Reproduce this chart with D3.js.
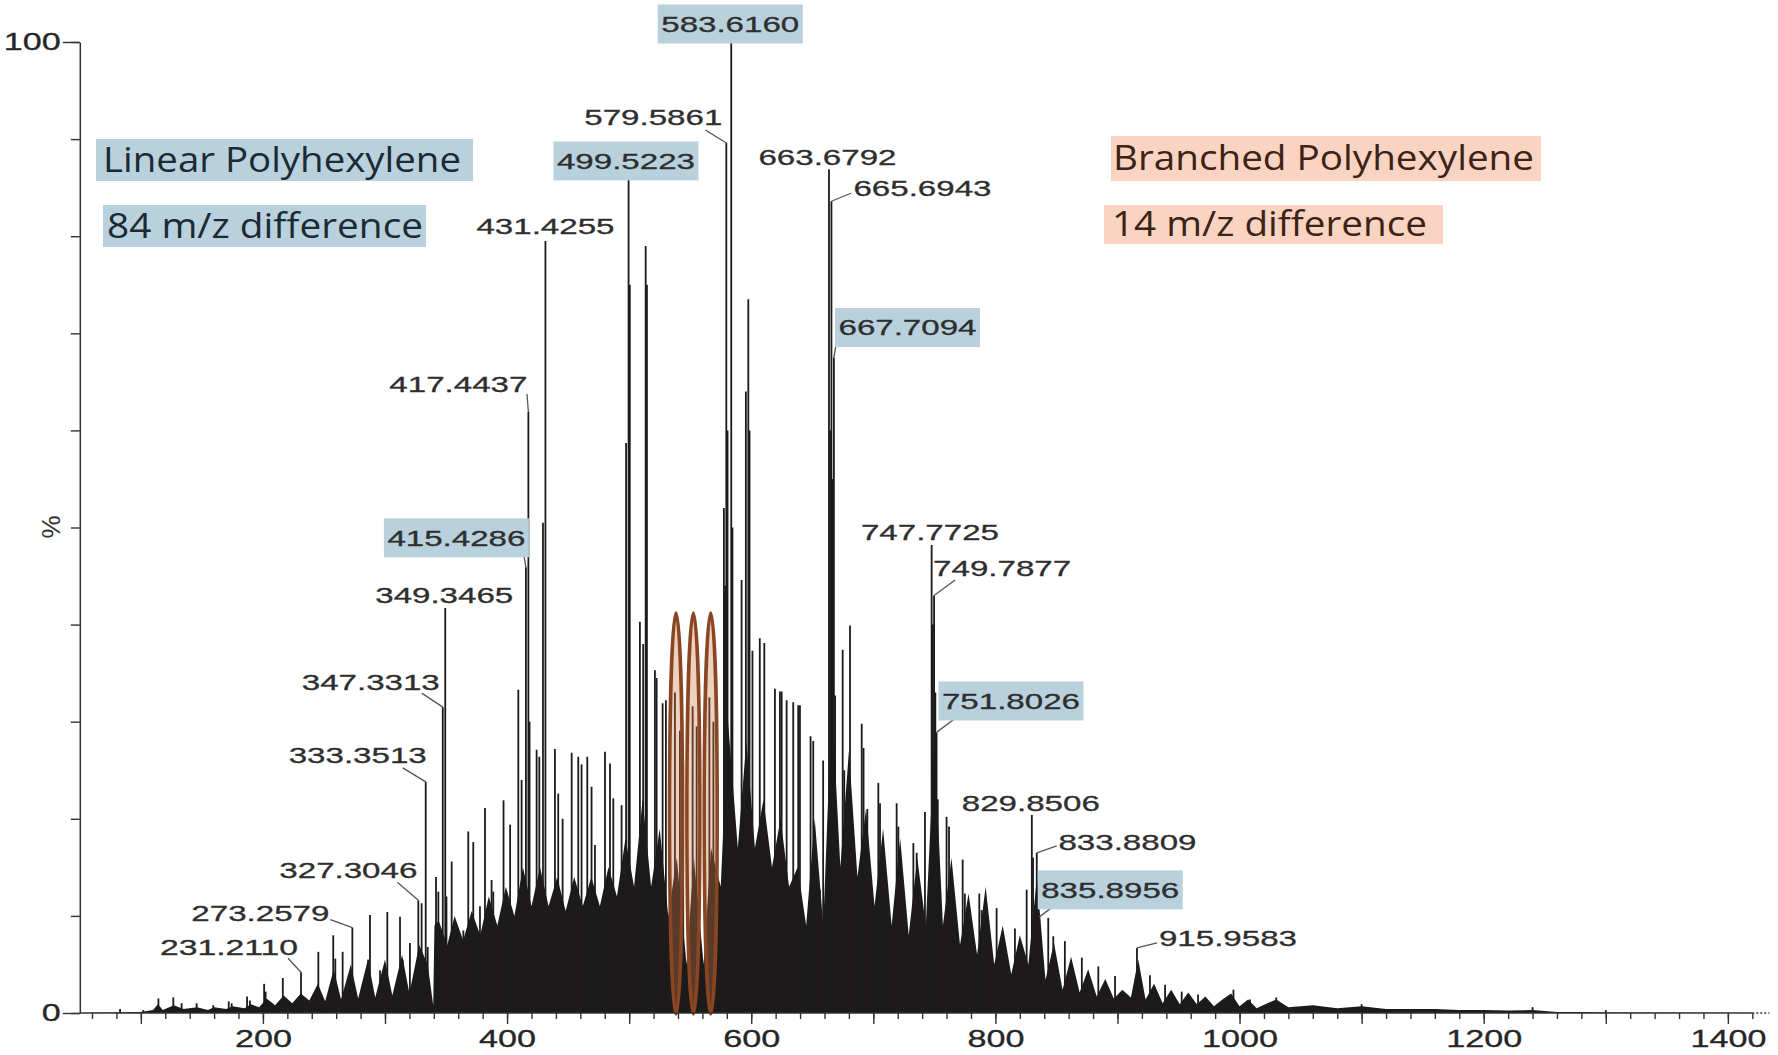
<!DOCTYPE html>
<html>
<head>
<meta charset="utf-8">
<script src="https://cdn.jsdelivr.net/npm/d3@7"></script>
<style>
  body { margin: 0; background: #fff; }
  svg { display: block; }
</style>
</head>
<body>
<svg id="spectrum" width="1778" height="1055"></svg>
<script>
// ---- data (m/z, relative intensity %) ----

// resolved peaks (sticks)
const peakMz = [
  83, 102, 114.4, 126.6, 133.4, 145.7, 159.3, 172, 174.4, 187, 189.4, 201, 202.2, 216.3,
  231.2110, 245.4, 257.6, 259.3, 265.3, 271.3, 273.2579, 286.3, 287.7, 295.9, 301.9,
  312.3, 314.5, 320.4, 327.3046, 330, 333.3513, 335, 341.8, 343.7, 347.3313, 349.3465,
  350.35, 354.6, 358.1, 364.2, 368.2, 372.3, 377.8, 381.9, 387.3, 388.7, 397.1, 402.5,
  409.2, 411.9, 415.4286, 417.4437, 418.4, 424.2, 426.4, 429.4, 431.4255, 439.2, 441.9,
  445.5, 452.9, 458.3, 461, 465.7, 469.2, 472, 480.2, 484.3, 487, 493.8, 497.5,
  499.5223, 500.52, 508.8, 511.5, 513.54, 514.54, 521.1, 522.5, 527.4, 530.1, 537.5,
  541.6, 544.3, 552, 555.3, 565.7, 569, 577.6, 578.6, 579.5861, 580.6, 583.6160, 584.6,
  592.1, 595.6, 597.6, 598.6, 601, 607, 610.7, 619.4, 623.5, 624.9, 629, 634.4, 638.5,
  639.9, 648.6, 650.8, 656.3, 658.9, 663.6792, 664.7, 665.6943, 666.7, 667.7094, 668.7,
  674.9, 676.2, 680.9, 690.5, 692, 695.1, 704.1, 705.5, 711, 719.1, 720.5, 732.8, 735.5,
  742.3, 747.7725, 748.8, 749.7877, 750.8, 751.8026, 752.8, 760, 762, 773.2, 775, 786.8,
  788.7, 801, 816, 825.6, 829.8506, 830.85, 833.8809, 834.9, 835.8956, 843.3, 847.4,
  856.9, 870.8, 884.3, 898, 915.9583, 916.96, 926.6, 939, 952.6, 966, 995, 1008.5, 1030,
  1100, 1240, 1300
];
const peakPct = [
  0.4, 0.3, 1.5, 1.6, 1.0, 1.0, 0.8, 1.2, 1.0, 1.7, 1.3, 3.0, 2.2, 3.6,
  4.2, 6.3, 8.0, 5.6, 6.3, 3.8, 8.8, 5.5, 10.1, 4.4, 10.4,
  9.9, 5.5, 7.2, 11.6, 11.3, 23.8, 6.8, 14.0, 12.5, 31.5, 41.7,
  12.0, 15.6, 8.5, 8.5, 18.7, 17.6, 11.0, 21.1, 13.7, 12.5, 21.9, 19.4,
  33.3, 24.0, 45.9, 61.9, 30.0, 27.1, 26.4, 50.5, 79.5, 27.2, 22.6,
  20.0, 26.8, 26.4, 25.6, 26.4, 23.3, 17.3, 26.9, 25.7, 22.1, 21.4, 58.7,
  86.0, 75.0, 40.3, 38.0, 79.0, 75.0, 35.3, 34.5, 31.9, 32.2, 33.0,
  29.1, 26.0, 31.6, 29.5, 32.5, 30.0, 52.0, 44.0, 89.6, 60.0, 100, 50.0,
  44.6, 64.0, 73.5, 60.0, 37.3, 38.6, 38.1, 33.4, 33.1, 33.1, 32.2, 32.0, 31.7,
  31.7, 28.5, 28.0, 12.7, 26.0, 86.9, 60.0, 83.6, 55.0, 67.5, 32.7,
  37.4, 25.0, 39.9, 29.8, 27.3, 21.0, 23.7, 21.6, 12.3, 21.6, 19.2, 17.5, 16.5,
  20.7, 48.2, 40.0, 43.0, 33.0, 28.9, 22.0, 20.2, 19.2, 15.8, 12.3, 12.3,
  10.6, 10.8, 8.7, 12.7, 20.4, 16.0, 16.5, 12.0, 9.9, 9.8, 7.9,
  7.4, 5.7, 4.8, 3.8, 6.7, 5.0, 3.9, 2.9, 2.2, 1.9, 2.4, 1.4, 1.6,
  0.9, 0.6, 0.3
];

// unresolved mass of overlapping ions (outline of the solid black region)
const envMz = [
  50, 100, 110, 114, 118, 127, 135, 146, 155, 160, 170, 175, 185, 190, 197, 203, 210,
  217, 224, 231, 238, 245, 251, 258, 264, 272, 278, 286, 292, 300, 306, 314, 320, 328,
  335, 339.5, 340.5, 344, 351, 357, 364, 371, 378, 385, 392, 399, 406, 413, 420, 427,
  434, 441, 448, 455, 462, 469, 476, 483, 490, 497, 504, 511, 518, 525, 532, 539, 547,
  553, 561, 567, 575, 581, 589, 596, 603, 610, 617, 624, 631, 638, 645, 652, 659, 666,
  673, 680, 687, 694, 701, 708, 715, 722, 729, 736, 743, 750, 757, 764, 771, 778, 785,
  792, 799, 806, 813, 820, 827, 834, 841, 848, 855, 862, 869, 876, 883, 890, 897, 904,
  911, 917, 923, 930, 937, 944, 951, 958, 965, 972, 979, 986, 993, 1000, 1007, 1014,
  1021, 1030, 1040, 1060, 1080, 1100, 1120, 1140, 1160, 1180, 1200, 1220, 1240, 1260,
  1280, 1300, 1430
];
const envPct = [
  0, 0.1, 0.3, 0.9, 0.3, 0.8, 0.4, 0.6, 0.3, 0.6, 0.4, 0.7, 0.5, 0.9, 0.6, 1.5, 0.8,
  1.8, 1.0, 2.0, 1.3, 3.0, 1.2, 4.5, 1.4, 5.0, 1.5, 5.5, 1.6, 5.5, 1.8, 6.0, 2.0, 7.0,
  5.0, 0.8, 9.0, 9.5, 7, 10, 7.5, 10.5, 8, 12, 9, 13, 10, 15, 11, 15,
  11, 14, 10.5, 14, 11, 14, 11, 15, 12, 18, 13, 22, 13, 19, 10, 16, 5,
  16, 5, 17, 13, 30, 17, 28, 17, 22, 15, 20, 13, 15, 9, 20, 9, 32,
  15, 27, 14, 21, 11, 19, 9, 18, 8, 16, 9, 28, 9, 16, 7, 12.3, 6,
  13, 5, 9, 4, 8, 5, 14, 3.4, 7.2, 2.4, 5.8, 2.1, 4.5, 1.7, 3.5, 1.5, 2.4,
  1.6, 5.5, 1.4, 3, 1.0, 2.4, 0.9, 2.1, 0.9, 1.7, 0.7, 1.4, 2.0, 0.7, 1.4, 0.5,
  0.9, 1.4, 0.6, 0.8, 0.5, 0.7, 0.4, 0.4, 0.4, 0.3, 0.3, 0.25, 0.3, 0.1,
  0.1, 0.05, 0
];

// annotated peaks; blue = linear series
const labelMz = [
  583.6160, 579.5861, 499.5223, 431.4255, 663.6792, 665.6943, 667.7094, 417.4437,
  415.4286, 349.3465, 347.3313, 333.3513, 327.3046, 273.2579, 231.2110, 747.7725,
  749.7877, 751.8026, 829.8506, 833.8809, 835.8956, 915.9583
];
const linearMz = [583.6160, 499.5223, 667.7094, 415.4286, 751.8026, 835.8956];

// the three 14 m/z spaced clusters circled in the figure
const ringMz = [538.4, 552.6, 566.8];
const ringTopPct = 41.3;

const xMajor = d3.range(100, 1401, 100);
const xMinor = d3.range(60, 1421, 20);
const xLabelled = [200, 400, 600, 800, 1000, 1200, 1400];
const yMinor = d3.range(0, 101, 10);
const yLabelled = [0, 100];

// ---- label placement (text centre / leader start, relative to peak tip) ----
const labelPlace = [
  { dx: -1, dy: -18 },
  { dx: -73, dy: -26, lead: [-21, -13] },
  { dx: -2.6, dy: -17 },
  { dx: 0, dy: -15 },
  { dx: -1.5, dy: -12 },
  { dx: 91, dy: -13, lead: [19.5, -8] },
  { dx: 73.6, dy: -30, lead: [2, -12] },
  { dx: -70, dy: -28, lead: [-1.4, -18] },
  { dx: -69.5, dy: -29.5, lead: [-2, -12] },
  { dx: -1, dy: -13 },
  { dx: -72, dy: -25, lead: [-21, -14] },
  { dx: -68, dy: -27, lead: [-23, -14] },
  { dx: -70, dy: -30, lead: [-21, -18] },
  { dx: -92, dy: -14, lead: [-22, -8] },
  { dx: -72, dy: -25, lead: [-13, -14] },
  { dx: -1.7, dy: -13 },
  { dx: 68, dy: -27, lead: [21, -15.5] },
  { dx: 74.4, dy: -31.4, lead: [20.4, -15.4] },
  { dx: -1, dy: -12 },
  { dx: 90.7, dy: -11, lead: [20, -7] },
  { dx: 71, dy: -27, lead: [19, -14] },
  { dx: 91, dy: -10, lead: [20, -5] }
];

const svg = d3.select('#spectrum');

const x = d3.scaleLinear().domain([50, 1430]).range([79.8, 1764.5]);
const y = d3.scaleLinear().domain([0, 100]).range([1013, 42]);

const ink = '#1c1a1a';
const numFont = '"Liberation Sans", Arial, sans-serif';

// solid mass
const area = d3.area()
  .x((d, i) => x(envMz[i]))
  .y0(y(0))
  .y1((d, i) => y(envPct[i]));

svg.append('path')
  .datum(envMz)
  .attr('d', area)
  .attr('fill', ink);

// sticks
svg.append('g')
  .selectAll('line')
  .data(peakMz)
  .join('line')
  .attr('x1', (d) => x(d))
  .attr('x2', (d) => x(d))
  .attr('y1', y(0))
  .attr('y2', (d, i) => y(peakPct[i]))
  .attr('stroke', ink)
  .attr('stroke-width', 1.8);

// circled clusters
const ringRy = (y(0) - y(ringTopPct)) / 2;
svg.append('g')
  .selectAll('ellipse')
  .data(ringMz)
  .join('ellipse')
  .attr('cx', (d) => x(d))
  .attr('cy', y(0) - ringRy + 1)
  .attr('rx', 6.5)
  .attr('ry', ringRy)
  .attr('fill', 'rgba(205,120,70,0.35)')
  .attr('stroke', '#8a4522')
  .attr('stroke-width', 3.5);

// peak labels
const labels = svg.append('g');
labelMz.forEach((m, i) => {
  const p = labelPlace[i];
  const pct = peakPct[peakMz.indexOf(m)];
  const px = x(m);
  const py = y(pct);
  const cx = px + p.dx;
  const cy = py + p.dy;

  if (p.lead) {
    labels.append('line')
      .attr('x1', px + p.lead[0]).attr('y1', py + p.lead[1])
      .attr('x2', px).attr('y2', py)
      .attr('stroke', '#555')
      .attr('stroke-width', 1.3);
  }
  if (linearMz.includes(m)) {
    labels.append('rect')
      .attr('x', cx - 72.5).attr('y', cy - 19.5)
      .attr('width', 145).attr('height', 39)
      .attr('fill', '#b8d1dd');
  }
  labels.append('text')
    .attr('x', cx - 69).attr('y', cy)
    .attr('dy', '0.36em')
    .attr('textLength', 138)
    .attr('lengthAdjust', 'spacingAndGlyphs')
    .attr('font-family', numFont)
    .attr('font-size', 22)
    .attr('fill', '#2e2e2e')
    .attr('stroke', '#2e2e2e')
    .attr('stroke-width', 0.3)
    .text(d3.format('.4f')(m));
});

// series annotations
const notes = [
  { text: 'Linear Polyhexylene', box: [96, 139, 377, 42], tx: 103, tw: 358, cy: 160, bg: '#b8d1dd', fg: '#1b2a33' },
  { text: '84 m/z difference', box: [103, 205, 323, 42], tx: 107, tw: 316, cy: 226, bg: '#b8d1dd', fg: '#1b2a33' },
  { text: 'Branched Polyhexylene', box: [1111, 136, 430, 45], tx: 1113, tw: 421, cy: 158, bg: '#f9d4c2', fg: '#3d2216' },
  { text: '14 m/z difference', box: [1104, 205, 339, 39], tx: 1112, tw: 315, cy: 224, bg: '#f9d4c2', fg: '#3d2216' }
];
notes.forEach((n) => {
  svg.append('rect')
    .attr('x', n.box[0]).attr('y', n.box[1])
    .attr('width', n.box[2]).attr('height', n.box[3])
    .attr('fill', n.bg);
  svg.append('text')
    .attr('x', n.tx).attr('y', n.cy)
    .attr('dy', '0.36em')
    .attr('textLength', n.tw)
    .attr('lengthAdjust', 'spacingAndGlyphs')
    .attr('font-family', '"Open Sans", "Noto Sans", sans-serif')
    .attr('font-size', 34)
    .attr('fill', n.fg)
    .text(n.text);
});

// x axis
const xAxisG = svg.append('g').attr('transform', `translate(0,${y(0)})`);
xAxisG.append('g')
  .call(d3.axisBottom(x).tickValues(xMinor).tickSize(6).tickFormat(''))
  .call((g) => g.select('.domain').remove());
xAxisG.append('g')
  .call(d3.axisBottom(x).tickValues(xMajor).tickSize(11).tickPadding(6)
    .tickFormat((d) => (xLabelled.includes(d) ? d : '')))
  .call((g) => g.select('.domain').remove());
xAxisG.append('line')
  .attr('x1', x(50)).attr('x2', x(1420))
  .attr('stroke', '#333').attr('stroke-width', 1.5);
xAxisG.append('line')
  .attr('x1', x(1420)).attr('x2', x(1434))
  .attr('stroke', '#333').attr('stroke-width', 1.5)
  .attr('stroke-dasharray', '2,2');

// y axis
const yAxisG = svg.append('g').attr('transform', `translate(${x(50)},0)`);
yAxisG.append('g')
  .call(d3.axisLeft(y).tickValues(yMinor).tickSize(9).tickFormat('').tickSizeOuter(0));
yAxisG.append('g')
  .call(d3.axisLeft(y).tickValues(yLabelled).tickSize(17).tickPadding(2))
  .call((g) => g.select('.domain').remove());

svg.selectAll('.tick line').attr('stroke', '#333').attr('stroke-width', 1.4);
svg.selectAll('.domain').attr('stroke', '#333').attr('stroke-width', 1.5);
svg.selectAll('.tick text')
  .attr('font-family', numFont)
  .attr('font-size', 24)
  .attr('fill', '#262626')
  .attr('stroke', '#262626')
  .attr('stroke-width', 0.3)
  .attr('lengthAdjust', 'spacingAndGlyphs')
  .attr('textLength', function () {
    const t = this.textContent;
    return t.length ? t.length * 19 : null;
  });

// y title
svg.append('text')
  .attr('transform', 'translate(51,527) rotate(-90)')
  .attr('text-anchor', 'middle')
  .attr('dy', '0.36em')
  .attr('font-family', numFont)
  .attr('font-size', 26)
  .attr('fill', '#333')
  .text('%');
</script>
</body>
</html>
